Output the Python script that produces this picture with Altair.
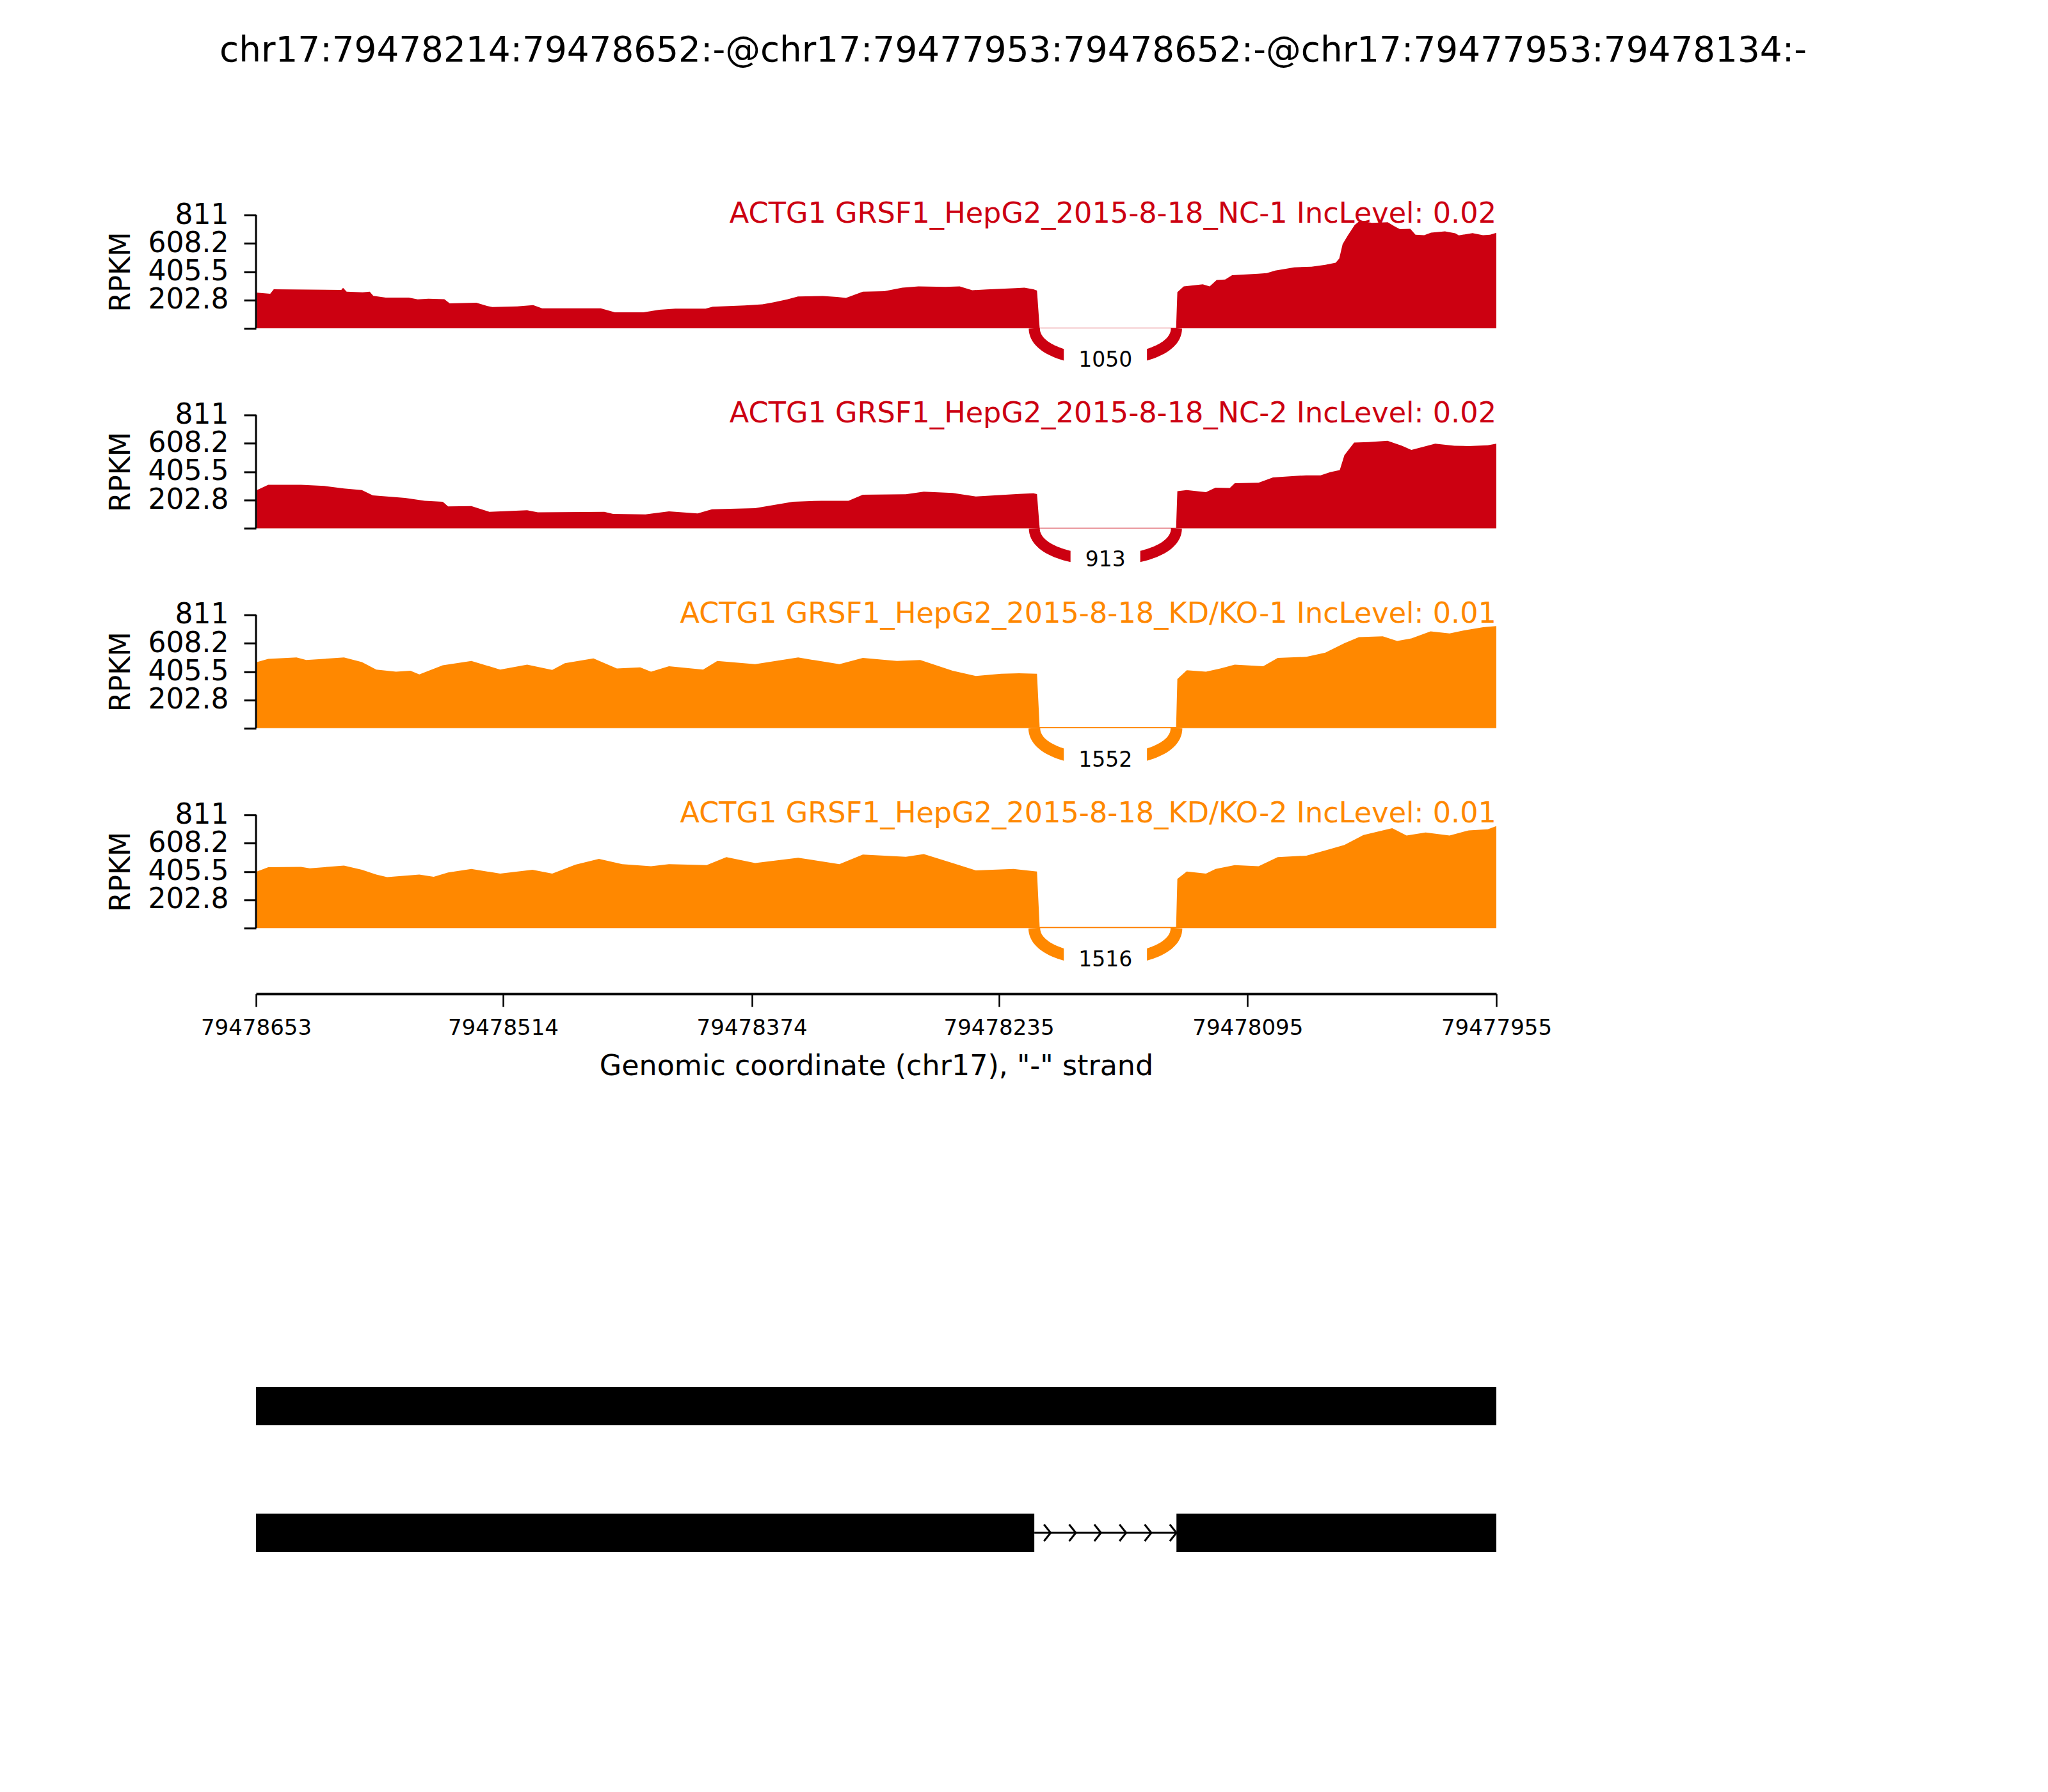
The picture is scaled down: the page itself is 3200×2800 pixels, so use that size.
import math
import altair as alt
import pandas as pd

FONT = "DejaVu Sans"

TITLE = "chr17:79478214:79478652:-@chr17:79477953:79478652:-@chr17:79477953:79478134:-"
X_TITLE = 'Genomic coordinate (chr17), "-" strand'

# plotted genomic window (minus strand: coordinates decrease left -> right)
REGION_LEFT = 79478653
REGION_RIGHT = 79477955
X_TICKS = [79478653, 79478514, 79478374, 79478235, 79478095, 79477955]

YMAX = 811
Y_TICKS = [0, 202.75, 405.5, 608.25, 811]
Y_LABELS = ["", "202.8", "405.5", "608.2", "811"]

SAMPLES = [
    "ACTG1 GRSF1_HepG2_2015-8-18_NC-1 IncLevel: 0.02",
    "ACTG1 GRSF1_HepG2_2015-8-18_NC-2 IncLevel: 0.02",
    "ACTG1 GRSF1_HepG2_2015-8-18_KD/KO-1 IncLevel: 0.01",
    "ACTG1 GRSF1_HepG2_2015-8-18_KD/KO-2 IncLevel: 0.01",
]
COLORS = ["#CC0011", "#CC0011", "#FF8800", "#FF8800"]
JXN_COUNTS = [1050, 913, 1552, 1516]
JUNCTION = (79478215, 79478135)

# coverage: distance (bp) from REGION_LEFT, and RPKM
NC1_POS = [0.5, 8, 10, 48, 49, 51, 60, 64, 66, 73, 86, 91, 97, 106, 109, 124, 130, 133, 147, 156,
           161, 194, 202, 218, 227, 236, 253, 257, 275, 285, 291, 299, 305, 319, 327, 332,
           341.5, 353.6, 363.7, 372.8, 388, 396, 403.1, 411.2, 427.4, 432.4, 437.5, 439.5, 441, 517.8,
           518.5, 522.1, 532.8, 536.7, 540.6, 545.4, 549.3, 563.9, 568.8, 573.6, 584.3, 594, 601.8,
           607.6, 609.6, 611.5, 614.4, 618.3, 621.2, 628.1, 636.9, 640.8, 643.7, 649.6, 652.5, 657.4,
           661.3, 669.1, 674.9, 676.9, 684.6, 690.5, 694.5, 698]
NC1_RPKM = [255, 247, 280, 275, 290, 262, 258, 262, 232, 220, 220, 207, 212, 209, 179, 183, 160, 152, 157, 166,
            143, 143, 115, 115, 133, 141, 141, 155, 164, 172, 185, 207, 228, 231, 225, 218,
            262, 266, 291, 300, 297, 300, 273, 278, 288, 291, 280, 270, 3, 3,
            259, 300, 315, 300, 346, 349, 380, 391, 395, 414, 437, 441, 455,
            470, 500, 603, 664, 740, 770, 755, 760, 730, 710, 712, 670, 667,
            685, 694, 680, 665, 682, 667, 670, 684]

NC2_POS = [0.5, 6.9, 25.3, 38.4, 49.5, 59.6, 65.7, 83.9, 95, 105.1, 108.1, 121.2, 131.3, 152.6, 158.6,
           196, 201, 219.2, 232.4, 248.5, 256.6, 280.9, 302.1, 318.2, 333.4, 341.5, 365.7, 375.8, 392,
           405.1, 429.4, 437.5, 439.5, 441, 517.8,
           518.5, 523.8, 534.6, 540, 548, 550.8, 564.2, 572.3, 591, 599.1, 604.5, 609.9, 612.5,
           618, 626, 636.8, 644.9, 650.2, 663.6, 674.4, 682.5, 693.2, 698]
NC2_RPKM = [273, 311, 311, 303, 285, 273, 235, 217, 197, 190, 156, 159, 118, 129, 114,
            118, 103, 99, 121, 106, 136, 144, 190, 197, 197, 240, 243, 262, 253,
            227, 246, 250, 245, 3, 3,
            265, 273, 258, 291, 288, 323, 326, 364, 379, 379, 402, 417, 523,
            614, 617, 626, 591, 561, 606, 591, 588, 594, 606]

KD1_POS = [0.5, 6.9, 22.8, 28.3, 49.5, 59.6, 67.7, 78.8, 86.9, 91.9, 105.1, 121.2, 137.4, 152.6, 166.7,
           173.8, 189.9, 203.1, 216.2, 222.3, 232.4, 251.6, 259.6, 280.9, 305.1, 328.3, 341.5, 360.7,
           373.8, 392, 405.1, 419.3, 429.4, 439.5, 441, 517.8,
           518.5, 523.8, 534.6, 542.7, 550.8, 566.8, 575, 591.1, 601.8, 612.5, 620.7, 634.1, 642.2,
           650.2, 661, 671.7, 679.8, 690.6, 698]
KD1_RPKM = [473, 496, 506, 488, 506, 473, 420, 405, 412, 385, 450, 481, 420, 455, 417,
            465, 500, 428, 435, 405, 443, 420, 481, 458, 506, 458, 503, 481,
            488, 412, 374, 390, 393, 390, 8, 8,
            352, 415, 405, 428, 455, 443, 503, 511, 541, 609, 652, 658, 625,
            643, 693, 678, 700, 723, 731]

KD2_POS = [0.5, 6.9, 25.3, 30.3, 49.5, 59.6, 67.7, 73.8, 91.9, 100, 108.1, 121.2, 137.4, 155.6, 166.7,
           179.8, 193, 206.1, 222.3, 232.4, 253.6, 264.7, 280.9, 305.1, 328.3, 341.5, 365.7, 375.8,
           392, 405.1, 426.3, 439.5, 441, 517.8,
           518.5, 523.8, 534.6, 540, 550.8, 564.2, 575, 591.1, 601.8, 612.5, 623.2, 639.4, 647.5,
           658.2, 671.7, 682.5, 693.2, 698]
KD2_RPKM = [405, 436, 439, 428, 448, 418, 383, 365, 383, 368, 398, 424, 390, 418, 390,
            454, 496, 458, 443, 458, 451, 508, 466, 504, 458, 527, 511, 530,
            466, 413, 424, 405, 10, 10,
            353, 405, 390, 424, 451, 443, 508, 519, 557, 595, 666, 716, 663,
            685, 663, 700, 708, 731]

POS = [NC1_POS, NC2_POS, KD1_POS, KD2_POS]
VAL = [NC1_RPKM, NC2_RPKM, KD1_RPKM, KD2_RPKM]

# gene models: isoform index, exon start, exon end
ISO = [1, 2, 2]
EXON_START = [79478653, 79478653, 79478135]
EXON_END = [79477955, 79478215, 79477955]
INTRON_ISO = [2]
INTRON_START = [79478215]
INTRON_END = [79478135]

# ---------------------------------------------------------------- layout
W = 1938
TRACK_H = 265.5
SPACING = 46.4
YMIN = -YMAX / 2
ARC_H = -0.75 * YMIN
JXN_FONT = 33

XSCALE = alt.Scale(domain=[REGION_RIGHT, REGION_LEFT], reverse=True, nice=False, zero=False)
YSCALE = alt.Scale(domain=[YMIN, YMAX], nice=False, zero=False)

label_expr = " : ".join(f"datum.value == {v} ? '{l}'" for v, l in zip(Y_TICKS, Y_LABELS)) + " : ''"

YAXIS = alt.Axis(values=Y_TICKS, labelExpr=label_expr, domain=False, grid=False,
                 tickSize=19, tickWidth=3, tickColor="black",
                 labelFont=FONT, labelFontSize=44, labelPadding=24, labelColor="black",
                 title="RPKM", titleFont=FONT, titleFontSize=44.4, titleFontWeight="normal",
                 titleColor="black", titleX=-198, titleY=88.5, titleAngle=270,
                 titleAlign="center", titleBaseline="alphabetic")

XAXIS = alt.Axis(values=X_TICKS, format="d", grid=False, offset=14,
                 domainWidth=4, domainColor="black", tickSize=20, tickWidth=2.5, tickColor="black",
                 labelFont=FONT, labelFontSize=34, labelPadding=17, labelColor="black",
                 labelFlush=False, labelOverlap=False, labelAngle=0,
                 title=X_TITLE, titleFont=FONT, titleFontSize=44.4, titleFontWeight="normal",
                 titleColor="black", titlePadding=21)


def bezier_rows(ss1, ss2, h, n=60):
    rows = []
    for k in range(n + 1):
        t = k / n
        b1 = 3 * (1 - t) ** 2 * t
        b2 = 3 * (1 - t) * t ** 2
        x = ((1 - t) ** 3 + b1) * ss1 + (b2 + t ** 3) * ss2
        y = -(b1 + b2) * h
        rows.append({"g": x, "v": y, "t": t})
    return rows


def track_chart(i, show_x):
    cov = pd.DataFrame({"g": [REGION_LEFT - d for d in POS[i]], "v": VAL[i]})
    ss1, ss2 = JUNCTION
    arc = pd.DataFrame(bezier_rows(ss1, ss2, ARC_H))
    txt_label = str(JXN_COUNTS[i])
    box_w = len(txt_label) * 0.636 * JXN_FONT + 46      # white label box (px), like a text bbox
    lab = pd.DataFrame({"g": [(ss1 + ss2) / 2], "v": [-0.75 * ARC_H], "n": [txt_label],
                        "box": [box_w ** 2]})
    spine = pd.DataFrame({"v": [0], "v2": [YMAX]})
    name = pd.DataFrame({"s": [SAMPLES[i]]})

    x_enc = alt.X("g:Q", scale=XSCALE, axis=XAXIS if show_x else None)
    y_enc = alt.Y("v:Q", scale=YSCALE, axis=YAXIS)

    area = alt.Chart(cov).mark_area(color=COLORS[i], opacity=1, interpolate="linear").encode(
        x=x_enc, y=y_enc, y2=alt.datum(0))
    line = alt.Chart(arc).mark_line(color=COLORS[i], strokeWidth=2.5 * math.log(JXN_COUNTS[i] + 1),
                                    strokeCap="butt").encode(x=x_enc, y=y_enc, order="t:Q")
    box = alt.Chart(lab).mark_point(shape="M-1,-0.42L1,-0.42L1,0.42L-1,0.42Z", filled=True,
                                    color="white", opacity=1, strokeWidth=0).encode(
        x=x_enc, y=y_enc, size=alt.Size("box:Q", scale=None, legend=None))
    txt = alt.Chart(lab).mark_text(font=FONT, fontSize=JXN_FONT, color="black", baseline="middle",
                                   align="center").encode(x=x_enc, y=y_enc, text="n:N")
    sp = alt.Chart(spine).mark_rule(color="black", strokeWidth=3, strokeCap="butt").encode(
        x=alt.value(0), y=y_enc, y2="v2:Q")
    nm = alt.Chart(name).mark_text(font=FONT, fontSize=44.6, color=COLORS[i], align="right",
                                   baseline="alphabetic").encode(
        x=alt.value(W), y=alt.value(12), text="s:N")
    return alt.layer(area, line, box, txt, sp, nm).properties(width=W, height=TRACK_H)


tracks = [track_chart(i, i == 3) for i in range(4)]

# gene model panel
GSCALE = alt.Scale(domain=[-2.088, 3.5], reverse=True, nice=False, zero=False)
GENE_H = 5.588 * 198
exons = pd.DataFrame({"iso": ISO, "s": EXON_START, "e": EXON_END})
introns = pd.DataFrame({"iso": INTRON_ISO, "s": INTRON_START, "e": INTRON_END})
chev_rows = []
for iso, s, e in zip(INTRON_ISO, INTRON_START, INTRON_END):
    n = 6
    step = (s - e) / 5.65
    for k in range(n):
        chev_rows.append({"iso": iso, "s": e + (n - 1 - k) * step})
chev = pd.DataFrame(chev_rows)

gx = alt.X("s:Q", scale=XSCALE, axis=None)
gy = alt.Y("iso:Q", scale=GSCALE, axis=None)
g_ex = alt.Chart(exons).mark_rule(color="black", strokeWidth=60, strokeCap="butt").encode(x=gx, x2="e:Q", y=gy)
g_in = alt.Chart(introns).mark_rule(color="black", strokeWidth=3, strokeCap="butt").encode(x=gx, x2="e:Q", y=gy)
g_ch = alt.Chart(chev).mark_point(shape="M-0.8,-1L0,0L-0.8,1", size=676, filled=False, color="black",
                                  strokeWidth=3, opacity=1, strokeJoin="miter").encode(x=gx, y=gy)
genes = alt.layer(g_ex, g_in, g_ch).properties(width=W, height=GENE_H)

chart = alt.vconcat(*tracks, genes, spacing=SPACING, bounds="flush").resolve_scale(
    x="independent", y="independent", size="independent"
).properties(
    title=alt.TitleParams(TITLE, font=FONT, fontSize=54.8, fontWeight="normal", color="black",
                          anchor="middle", frame="group", dx=214, offset=204),
    padding={"left": 158, "top": 44, "right": 20, "bottom": 20},
).configure(font=FONT).configure_view(strokeWidth=0, stroke="transparent")

chart.save("out.html", embed_options={"renderer": "svg", "actions": False})
